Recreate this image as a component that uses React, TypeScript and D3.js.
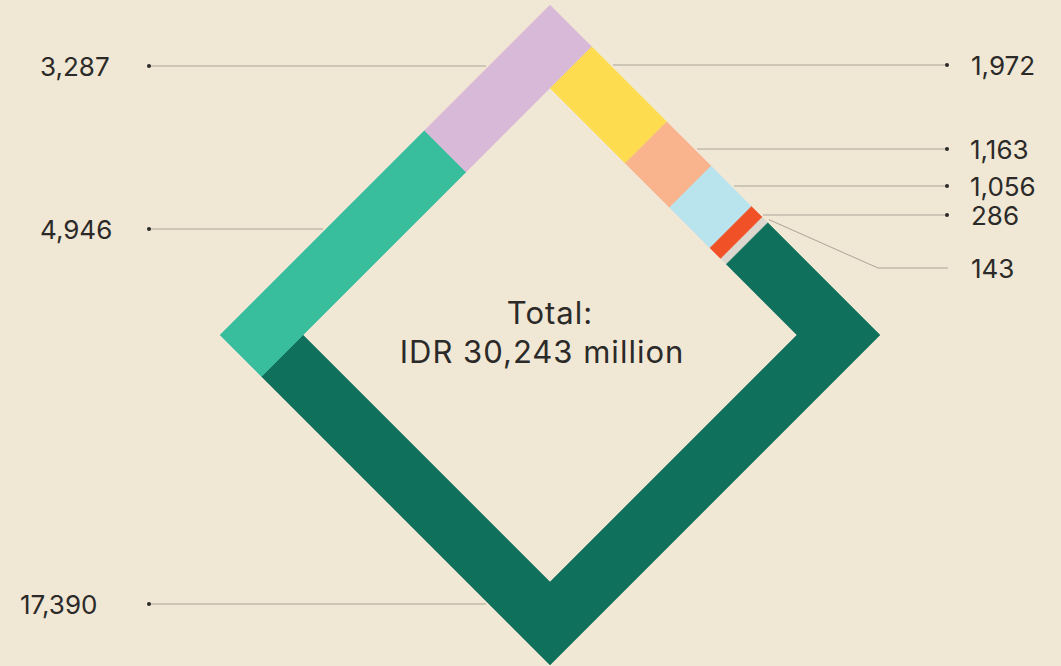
import React from 'react';
import * as d3 from 'd3';

// ---- data (clockwise from the top) ----
const values = [1972, 1163, 1056, 286, 143, 17390, 4946, 3287];
const totalPrefix = 'IDR';
const totalSuffix = 'million';

// ---- styles ----
const segmentColors = ['#fedc50', '#f9b48e', '#b9e3ed', '#f05127', '#dcd8cf', '#0f705c', '#38bd9d', '#d9b9d8'];

// ---- label layout (annotation placement) ----
const labelSide = ['right', 'right', 'right', 'right', 'right', 'left', 'left', 'left'];
const labelLineY = [65, 149, 186, 215, 268, 604, 229, 66];
const labelTextX = [971, 970, 970, 971, 971, 20, 40, 40];
const labelElbowX: (number | null)[] = [null, null, null, null, 878, null, null, null];

const W = 1061;
const H = 666;
const CX = 550;
const CY = 335;
const R_OUT = 330; // outer half-diagonal
const R_IN = 247; // inner half-diagonal
const DOT_LEFT = 149;
const DOT_RIGHT = 947;
const GAP = 3;
const FONT = 'Inter, "Open Sans", "DejaVu Sans", sans-serif';
const TEXT = '#2b2a29';
const LEADER = '#aba497';

export default function App() {
  const A = R_OUT / Math.SQRT2; // outer half side (rotated frame)
  const B = R_IN / Math.SQRT2; // inner half side
  const C = (A + B) / 2; // centre-line half side
  const side = 2 * C;
  const perim = 4 * side;
  const startOffset = C - B; // ring starts at the inner top corner
  const total = d3.sum(values);
  const cum = [0, ...Array.from(d3.cumsum(values))];
  const pos = d3.scaleLinear().domain([0, total]).range([startOffset, startOffset + perim]);

  // point on a side k at edge coordinate s and normal distance n (rotated frame)
  const onSide = (k: number, s: number, n: number): [number, number] => {
    const kk = ((k % 4) + 4) % 4;
    if (kk === 0) return [s, -n];
    if (kk === 1) return [n, s];
    if (kk === 2) return [-s, n];
    return [-n, -s];
  };
  // path position -> side index and clamped edge coordinate
  const locate = (p: number) => {
    const k = Math.floor(p / side);
    const s = p - k * side - C;
    return { k, s: Math.max(-B, Math.min(B, s)) };
  };

  const line = d3.line().curve(d3.curveLinearClosed);

  const segs = values.map((v, i) => {
    const p1 = pos(cum[i]);
    const p2 = pos(cum[i + 1]);
    const a = locate(p1);
    const b = locate(p2);
    const outer: [number, number][] = [onSide(a.k, a.s, A)];
    const inner: [number, number][] = [onSide(a.k, a.s, B)];
    for (let k = a.k; k < b.k; k++) {
      outer.push(onSide(k, A, A));
      inner.push(onSide(k, B, B));
    }
    outer.push(onSide(b.k, b.s, A));
    inner.push(onSide(b.k, b.s, B));
    const pts = [...outer, ...inner.reverse()];
    return { d: line(pts) as string, color: segmentColors[i], p1, p2 };
  });

  const toScreen = ([x, y]: [number, number]): [number, number] => {
    const c = Math.SQRT1_2;
    return [CX + x * c - y * c, CY + x * c + y * c];
  };
  const outerX = (y: number, dir: number) => CX + dir * (R_OUT - Math.abs(y - CY));
  const fmt = d3.format(',');

  const labels = values.map((v, i) => {
    const right = labelSide[i] === 'right';
    const y = labelLineY[i];
    const dotX = right ? DOT_RIGHT : DOT_LEFT;
    let path: string;
    const elbow = labelElbowX[i];
    if (elbow != null) {
      const pm = segs[i].p1 + (segs[i].p2 - segs[i].p1) * 0.8;
      const loc = locate(pm);
      const start = toScreen(onSide(loc.k, loc.s, A + GAP));
      path = `M${start[0]},${start[1]}L${elbow},${y}L${dotX + 1},${y}`;
    } else {
      const ex = outerX(y, right ? 1 : -1) + (right ? GAP : -GAP);
      path = `M${dotX},${y}L${ex},${y}`;
    }
    return { path, y, dotX, showDot: elbow == null, text: fmt(v), x: labelTextX[i] };
  });

  return (
    <svg width={W} height={H} style={{ position: 'absolute', left: 0, top: 0, display: 'block' }}>
      <rect x={0} y={0} width={W} height={H} fill="#f0e7d4" />
      <g transform={`translate(${CX},${CY}) rotate(45)`}>
        {segs.map((s, i) => (
          <path key={i} d={s.d} fill={s.color} stroke={s.color} strokeWidth={0.5} strokeLinejoin="miter" />
        ))}
      </g>
      {labels.map((l, i) => (
        <g key={i}>
          <path d={l.path} fill="none" stroke={LEADER} strokeWidth={1} />
          {l.showDot && <circle cx={l.dotX} cy={l.y} r={2} fill={TEXT} />}
          <text x={l.x} y={l.y + 10} fontFamily={FONT} fontSize={26} fill={TEXT}>
            {l.text}
          </text>
        </g>
      ))}
      <text x={550} y={324} textAnchor="middle" fontFamily={FONT} fontSize={31} letterSpacing={1} fill={TEXT}>
        Total:
      </text>
      <text x={542} y={363} textAnchor="middle" fontFamily={FONT} fontSize={31} letterSpacing={1} fill={TEXT}>
        {`${totalPrefix} ${fmt(total)} ${totalSuffix}`}
      </text>
    </svg>
  );
}
